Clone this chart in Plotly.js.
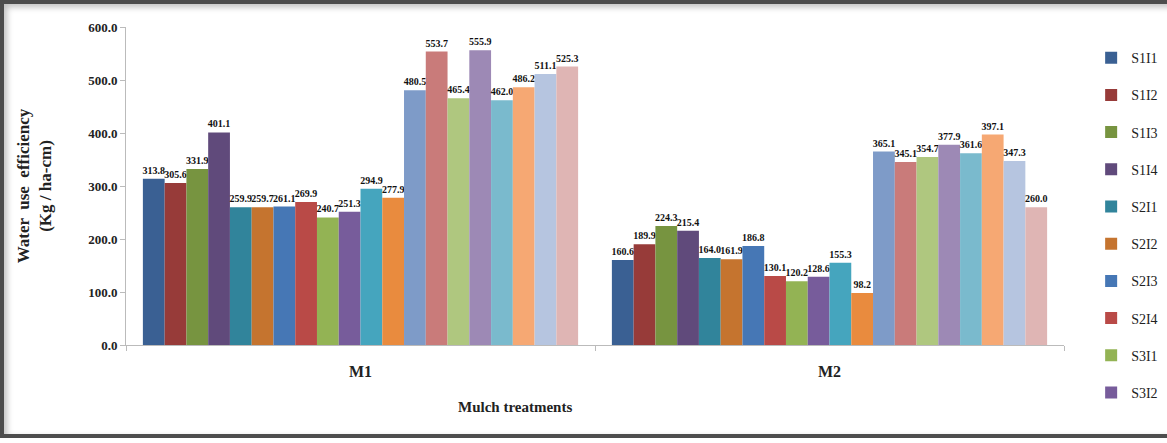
<!DOCTYPE html>
<html>
<head>
<meta charset="utf-8">
<script src="https://cdn.plot.ly/plotly-3.0.1.min.js"></script>
<style>
html,body{margin:0;padding:0;background:#fff;}
#wrap{position:relative;width:1167px;height:443px;overflow:hidden;}
#chart{position:absolute;left:0;top:0;width:1167px;height:443px;}
#frame{position:absolute;left:0;top:0;width:1180px;height:438px;box-sizing:border-box;border:4px solid #4d4d4d;border-right:none;pointer-events:none;box-shadow:inset 3px 3px 6px rgba(0,0,0,0.25);}
</style>
</head>
<body>
<div id="wrap"><div id="chart"></div><div id="frame"></div></div>
<script>
const categories = ["M1", "M2"];
const seriesNames = ["S1I1","S1I2","S1I3","S1I4","S2I1","S2I2","S2I3","S2I4","S3I1","S3I2","S3I3","S3I4","S4I1","S4I2","S4I3","S4I4","S5I1","S5I2","S5I3","S5I4"];
const valuesM1 = [313.8,305.6,331.9,401.1,259.9,259.7,261.1,269.9,240.7,251.3,294.9,277.9,480.5,553.7,465.4,555.9,462.0,486.2,511.1,525.3];
const valuesM2 = [160.6,189.9,224.3,215.4,164.0,161.9,186.8,130.1,120.2,128.6,155.3,98.2,365.1,345.1,354.7,377.9,361.6,397.1,347.3,260.0];
const colors = ["#3A6093","#973B39","#779440","#604A7B","#31849B","#C5742F","#4677B5","#B94A47","#93B354","#775C9B","#45A5BE","#E98B3E","#7E9BC8","#C97B7A","#AFC77F","#9D89B5","#7ABACD","#F6A873","#B6C5E0","#DFB5B4"];
const xTitle = "Mulch treatments";
const yTitle = "Water  use  efficiency<br>(Kg / ha-cm)";

const font = "Liberation Serif, Times New Roman, serif";
const traces = seriesNames.map((name, i) => ({
  type: "bar",
  name: name,
  x: categories,
  y: [valuesM1[i], valuesM2[i]],
  marker: {color: colors[i], line: {width: 0}},
  text: [valuesM1[i].toFixed(1), valuesM2[i].toFixed(1)],
  textposition: "outside",
  textfont: {family: font, size: 10, color: "#111", weight: "bold"},
  constraintext: "none",
  cliponaxis: false,
  legendgroup: "g" + i,
  showlegend: i < 10,
  hoverinfo: "name+y"
}));

const layout = {
  width: 1167, height: 443,
  margin: {l: 126, r: 103, t: 27, b: 98},
  paper_bgcolor: "#fff", plot_bgcolor: "#fff",
  barmode: "group",
  bargap: 0.072,
  bargroupgap: 0,
  showlegend: true,
  legend: {
    xref: "container", yref: "container",
    x: 0.935, xanchor: "left", y: 0.905, yanchor: "top",
    font: {family: font, size: 14, color: "#222"},
    traceorder: "grouped",
    tracegroupgap: 16,
    itemwidth: 30,
    maxheight: 440
  },
  xaxis: {
    type: "category",
    showline: true, linecolor: "#bbb", linewidth: 1,
    ticks: "outside", tickson: "boundaries", ticklen: 5, tickcolor: "#bbb",
    ticklabelstandoff: 12,
    tickfont: {family: font, size: 16, color: "#222", weight: "bold"}
  },
  yaxis: {
    range: [0, 600], dtick: 100, tickformat: ".1f",
    showline: true, linecolor: "#bbb", linewidth: 1,
    ticks: "outside", ticklen: 5, tickcolor: "#bbb",
    showgrid: false, zeroline: false,
    tickfont: {family: font, size: 13, color: "#222", weight: "bold"},
    title: {text: "<b>" + yTitle + "</b>", font: {family: font, size: 17, color: "#222"}, standoff: 32}
  },
  annotations: [{
    text: "<b>" + xTitle + "</b>",
    xref: "paper", yref: "paper", x: 0.415, y: -0.195,
    xanchor: "center", yanchor: "middle", showarrow: false,
    font: {family: font, size: 15, color: "#222"}
  }]
};

Plotly.newPlot("chart", traces, layout, {displayModeBar: false, staticPlot: true});
</script>
</body>
</html>
